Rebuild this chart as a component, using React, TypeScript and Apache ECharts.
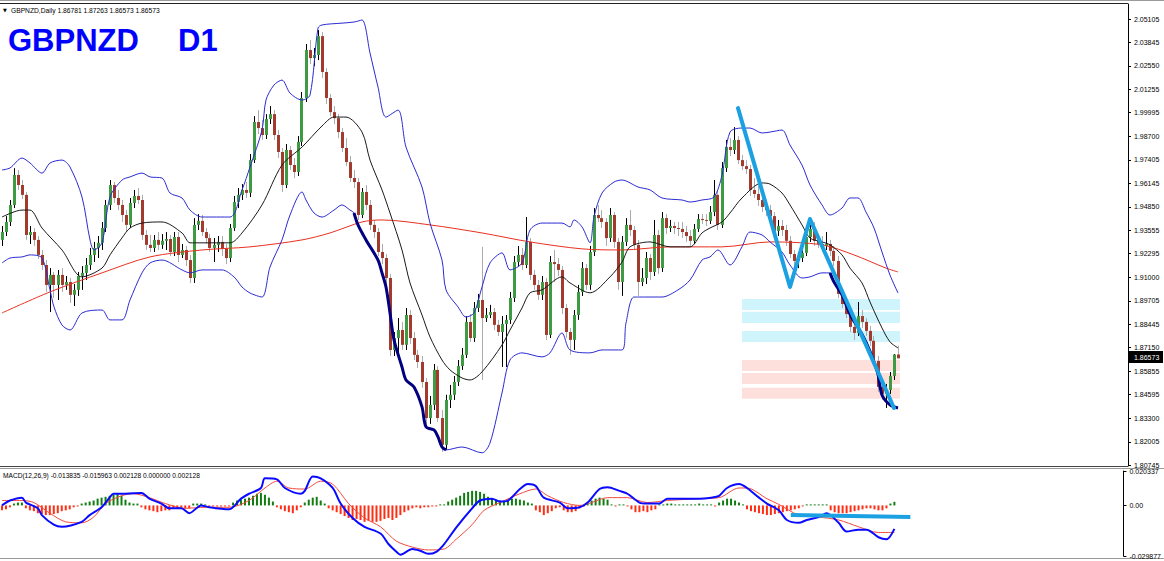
import React, { useEffect, useRef } from "react";
import * as echarts from "echarts";

// ---------- DATA ----------
const symbolTitle = "GBPNZD";
const periodTitle = "D1";
const headerText = "GBPNZD,Daily 1.86781 1.87263 1.86573 1.86573";
const macdHeader = "MACD(12,26,9) -0.013835 -0.015963 0.002128 0.000000 0.002128";
const lastPrice = 1.86573;
const totalSlots = 282;
const categories = Array.from({ length: totalSlots }, (_, i) => "D" + (i + 1));

const priceTicks = [2.05105, 2.03845, 2.0255, 2.01255, 1.99995, 1.987, 1.97405, 1.96145, 1.9485, 1.93555, 1.92295, 1.91, 1.89705, 1.88445, 1.8715, 1.85855, 1.84595, 1.833, 1.82005, 1.80745];
const macdTicks = [0.020337, 0, -0.029877];
const macdTickLabels = ["0.020337", "0.00", "-0.029877"];

const opens = [
  1.9304,1.9347,1.9402,1.9495,1.9659,1.9604,1.9550,1.9331,1.9347,1.9304,
  1.9222,1.9167,1.9058,1.9113,1.9058,1.9113,1.9058,1.9074,1.9004,1.9031,
  1.9107,1.9124,1.9167,1.9222,1.9260,1.9288,1.9369,1.9495,1.9604,1.9533,
  1.9495,1.9440,1.9386,1.9506,1.9544,1.9522,1.9331,1.9277,1.9260,1.9304,
  1.9277,1.9299,1.9309,1.9238,1.9320,1.9222,1.9249,1.9194,1.9096,1.9386,
  1.9408,1.9347,1.9314,1.9260,1.9277,1.9293,1.9255,1.9205,1.9369,1.9511,
  1.9550,1.9577,1.9561,1.9740,1.9948,1.9915,1.9877,1.9964,1.9991,1.9877,
  1.9784,1.9604,1.9795,1.9713,1.9675,1.9839,2.0079,2.0341,2.0297,2.0314,
  2.0417,2.0221,2.0079,2.0002,1.9969,1.9893,1.9806,1.9729,1.9642,1.9620,
  1.9440,1.9566,1.9495,1.9386,1.9347,1.9238,1.9205,1.9096,1.8703,1.8768,
  1.8812,1.8731,1.8894,1.8768,1.8676,1.8637,1.8528,1.8331,1.8403,1.8594,
  1.8331,1.8185,1.8430,1.8458,1.8528,1.8615,1.8676,1.8856,1.8768,1.8932,
  1.8976,1.8877,1.8894,1.8910,1.8840,1.8801,1.8845,1.8867,1.8987,1.9183,
  1.9222,1.9167,1.9293,1.9113,1.9058,1.9004,1.9074,1.8785,1.9183,1.9172,
  1.9140,1.8932,1.8801,1.8758,1.8894,1.9020,1.9150,1.9058,1.9238,1.9440,
  1.9423,1.9402,1.9314,1.9440,1.9293,1.9074,1.9293,1.9386,1.9358,1.9277,
  1.9074,1.9096,1.9205,1.9129,1.9331,1.9150,1.9423,1.9369,1.9380,1.9369,
  1.9364,1.9347,1.9325,1.9299,1.9364,1.9418,1.9413,1.9408,1.9456,1.9550,
  1.9386,1.9696,1.9812,1.9795,1.9850,1.9740,1.9707,1.9691,1.9577,1.9555,
  1.9522,1.9484,1.9467,1.9434,1.9353,1.9380,1.9358,1.9299,1.9227,1.9189,
  1.9205,1.9233,1.9320,1.9364,1.9299,1.9282,1.9271,1.9282,1.9244,1.9189,
  1.9009,1.8954,1.8899,1.8829,1.8796,1.8888,1.8856,1.8807,1.8753,1.8643,
  1.8501,1.8463,1.8485,1.8561,1.86781,
];
const highs = [
  1.9380,1.9434,1.9522,1.9696,1.9686,1.9631,1.9566,1.9380,1.9369,1.9325,
  1.9249,1.9194,1.9150,1.9129,1.9140,1.9150,1.9107,1.9096,1.9063,1.9129,
  1.9161,1.9205,1.9260,1.9293,1.9325,1.9402,1.9522,1.9631,1.9620,1.9577,
  1.9522,1.9467,1.9533,1.9577,1.9587,1.9550,1.9358,1.9331,1.9331,1.9347,
  1.9336,1.9347,1.9331,1.9347,1.9347,1.9282,1.9271,1.9222,1.9423,1.9445,
  1.9440,1.9369,1.9336,1.9314,1.9325,1.9325,1.9282,1.9391,1.9544,1.9587,
  1.9609,1.9620,1.9773,1.9980,2.0013,1.9959,1.9991,2.0035,2.0013,1.9904,
  1.9806,1.9828,1.9817,1.9751,1.9871,2.0112,2.0374,2.0396,2.0352,2.0450,
  2.0439,2.0242,2.0101,2.0035,1.9991,1.9915,1.9860,1.9762,1.9686,1.9642,
  1.9587,1.9604,1.9522,1.9413,1.9369,1.9282,1.9227,1.9118,1.8801,1.8877,
  1.8856,1.8932,1.8921,1.8801,1.8703,1.8670,1.8550,1.8452,1.8626,1.8615,
  1.8375,1.8458,1.8512,1.8561,1.8648,1.8714,1.8888,1.8899,1.8965,1.9009,
  1.9266,1.8932,1.8949,1.8932,1.8867,1.8888,1.8894,1.9020,1.9216,1.9271,
  1.9260,1.9429,1.9314,1.9140,1.9085,1.9107,1.9096,1.9216,1.9249,1.9205,
  1.9161,1.8954,1.8823,1.8921,1.9058,1.9183,1.9172,1.9271,1.9478,1.9495,
  1.9467,1.9423,1.9478,1.9456,1.9314,1.9325,1.9423,1.9467,1.9380,1.9304,
  1.9150,1.9238,1.9227,1.9413,1.9358,1.9456,1.9445,1.9413,1.9402,1.9402,
  1.9402,1.9380,1.9358,1.9391,1.9445,1.9445,1.9445,1.9489,1.9631,1.9577,
  1.9729,1.9850,1.9860,1.9920,1.9871,1.9768,1.9740,1.9713,1.9642,1.9599,
  1.9550,1.9522,1.9495,1.9456,1.9413,1.9413,1.9386,1.9325,1.9249,1.9238,
  1.9271,1.9358,1.9391,1.9402,1.9336,1.9325,1.9347,1.9304,1.9271,1.9216,
  1.9042,1.8976,1.8921,1.8867,1.8965,1.8921,1.8877,1.8834,1.8779,1.8670,
  1.8528,1.8517,1.8583,1.8681,1.87263,
];
const lows = [
  1.9271,1.9325,1.9380,1.9478,1.9577,1.9527,1.9304,1.9282,1.9271,1.9200,
  1.9140,1.9020,1.8910,1.8987,1.8976,1.9020,1.9031,1.8960,1.8943,1.8998,
  1.9031,1.9085,1.9140,1.9183,1.9205,1.9249,1.9347,1.9467,1.9506,1.9467,
  1.9402,1.9347,1.9369,1.9478,1.9500,1.9304,1.9249,1.9238,1.9238,1.9249,
  1.9255,1.9249,1.9216,1.9216,1.9183,1.9205,1.9161,1.9069,1.9069,1.9358,
  1.9325,1.9282,1.9238,1.9183,1.9238,1.9216,1.9172,1.9183,1.9353,1.9478,
  1.9522,1.9533,1.9538,1.9724,1.9882,1.9850,1.9855,1.9937,1.9850,1.9751,
  1.9566,1.9587,1.9686,1.9642,1.9653,1.9817,2.0057,2.0264,2.0253,2.0286,
  2.0188,2.0046,1.9980,1.9937,1.9860,1.9784,1.9707,1.9620,1.9587,1.9413,
  1.9423,1.9467,1.9358,1.9314,1.9216,1.9172,1.9063,1.8670,1.8670,1.8692,
  1.8703,1.8703,1.8736,1.8648,1.8604,1.8496,1.8299,1.8299,1.8375,1.8310,
  1.8146,1.8157,1.8386,1.8430,1.8506,1.8594,1.8659,1.8747,1.8747,1.8910,
  1.8539,1.8856,1.8877,1.8812,1.8779,1.8610,1.8610,1.8845,1.8965,1.9161,
  1.9140,1.9150,1.9085,1.9031,1.8976,1.8976,1.8758,1.8768,1.9074,1.9107,
  1.8899,1.8768,1.8676,1.8703,1.8867,1.8998,1.9031,1.9031,1.9216,1.9402,
  1.9369,1.9271,1.9293,1.9260,1.9031,1.8998,1.9271,1.9325,1.9249,1.8998,
  1.9052,1.9063,1.9085,1.9107,1.9118,1.9129,1.9336,1.9347,1.9336,1.9325,
  1.9314,1.9293,1.9271,1.9282,1.9347,1.9391,1.9380,1.9391,1.9434,1.9358,
  1.9369,1.9675,1.9762,1.9773,1.9718,1.9686,1.9664,1.9544,1.9533,1.9489,
  1.9456,1.9434,1.9402,1.9325,1.9325,1.9325,1.9271,1.9205,1.9150,1.9150,
  1.9183,1.9216,1.9293,1.9271,1.9260,1.9238,1.9249,1.9216,1.9161,1.8987,
  1.8932,1.8877,1.8801,1.8758,1.8779,1.8823,1.8779,1.8725,1.8615,1.8474,
  1.8430,1.8386,1.8463,1.8539,1.86573,
];
const closes = [
  1.9347,1.9402,1.9495,1.9659,1.9604,1.9550,1.9331,1.9347,1.9304,1.9222,
  1.9167,1.9058,1.9113,1.9058,1.9113,1.9058,1.9074,1.9004,1.9031,1.9107,
  1.9124,1.9167,1.9222,1.9260,1.9288,1.9369,1.9495,1.9604,1.9533,1.9495,
  1.9440,1.9386,1.9506,1.9544,1.9522,1.9331,1.9277,1.9260,1.9304,1.9277,
  1.9299,1.9309,1.9238,1.9320,1.9222,1.9249,1.9194,1.9096,1.9386,1.9408,
  1.9347,1.9314,1.9260,1.9277,1.9293,1.9255,1.9205,1.9369,1.9511,1.9550,
  1.9577,1.9561,1.9740,1.9948,1.9915,1.9877,1.9964,1.9991,1.9877,1.9784,
  1.9604,1.9795,1.9713,1.9675,1.9839,2.0079,2.0341,2.0297,2.0314,2.0417,
  2.0221,2.0079,2.0002,1.9969,1.9893,1.9806,1.9729,1.9642,1.9620,1.9440,
  1.9566,1.9495,1.9386,1.9347,1.9238,1.9205,1.9096,1.8703,1.8768,1.8812,
  1.8731,1.8894,1.8768,1.8676,1.8637,1.8528,1.8331,1.8403,1.8594,1.8331,
  1.8185,1.8430,1.8458,1.8528,1.8615,1.8676,1.8856,1.8768,1.8932,1.8976,
  1.8877,1.8894,1.8910,1.8840,1.8801,1.8845,1.8867,1.8987,1.9183,1.9222,
  1.9167,1.9293,1.9113,1.9058,1.9004,1.9074,1.8785,1.9183,1.9172,1.9140,
  1.8932,1.8801,1.8758,1.8894,1.9020,1.9150,1.9058,1.9238,1.9440,1.9423,
  1.9402,1.9314,1.9440,1.9293,1.9074,1.9293,1.9386,1.9358,1.9277,1.9074,
  1.9096,1.9205,1.9129,1.9331,1.9150,1.9423,1.9369,1.9380,1.9369,1.9364,
  1.9347,1.9325,1.9299,1.9364,1.9418,1.9413,1.9408,1.9456,1.9550,1.9386,
  1.9696,1.9812,1.9795,1.9850,1.9740,1.9707,1.9691,1.9577,1.9555,1.9522,
  1.9484,1.9467,1.9434,1.9353,1.9380,1.9358,1.9299,1.9227,1.9189,1.9205,
  1.9233,1.9320,1.9364,1.9299,1.9282,1.9271,1.9282,1.9244,1.9189,1.9009,
  1.8954,1.8899,1.8829,1.8796,1.8888,1.8856,1.8807,1.8753,1.8643,1.8501,
  1.8463,1.8485,1.8561,1.8678,1.86573,
];

// indicator lines: [bar index, value]
const ma200 = [[0,1.8905],[12,1.9020],[25,1.9124],[37,1.9211],[50,1.9249],[62,1.9266],[75,1.9304],[82,1.9342],[90,1.9402],[95,1.9413],[107,1.9386],[120,1.9342],[132,1.9293],[145,1.9255],[155,1.9249],[167,1.9266],[180,1.9266],[192,1.9293],[205,1.9277],[213,1.9222],[221,1.9150],[224,1.9129]];
const bbMiddle = [[0,1.9429],[5,1.9467],[7,1.9467],[10,1.9369],[15,1.9249],[20,1.9102],[25,1.9150],[27,1.9222],[30,1.9315],[32,1.9369],[35,1.9396],[40,1.9402],[45,1.9342],[47,1.9288],[50,1.9288],[57,1.9288],[60,1.9342],[65,1.9495],[70,1.9713],[75,1.9811],[80,1.9926],[83,1.9975],[86,1.9975],[90,1.9893],[92,1.9740],[95,1.9577],[97,1.9451],[100,1.9249],[102,1.9069],[105,1.8894],[107,1.8774],[110,1.8648],[112,1.8594],[115,1.8550],[117,1.8539],[120,1.8583],[125,1.8730],[127,1.8812],[130,1.8932],[132,1.9015],[135,1.9031],[140,1.9102],[142,1.9069],[147,1.9015],[152,1.9102],[155,1.9183],[157,1.9266],[162,1.9293],[167,1.9266],[172,1.9266],[175,1.9342],[177,1.9369],[180,1.9402],[182,1.9451],[185,1.9533],[190,1.9615],[192,1.9609],[195,1.9560],[197,1.9495],[200,1.9386],[202,1.9314],[205,1.9293],[207,1.9277],[210,1.9222],[212,1.9150],[215,1.9069],[217,1.8965],[220,1.8823],[222,1.8747],[224,1.8714]];
const bbUpper = [[0,1.9686],[2,1.9697],[5,1.9751],[7,1.9724],[10,1.9669],[12,1.9724],[15,1.9740],[17,1.9702],[20,1.9538],[22,1.9304],[23,1.9249],[25,1.9288],[27,1.9538],[30,1.9631],[32,1.9648],[35,1.9669],[37,1.9648],[40,1.9642],[42,1.9560],[45,1.9533],[47,1.9467],[50,1.9429],[57,1.9429],[60,1.9577],[62,1.9702],[65,1.9904],[66,2.0068],[68,2.0150],[70,2.0177],[72,2.0106],[75,2.0068],[77,2.0095],[79,2.0461],[80,2.0478],[85,2.0488],[88,2.0494],[90,2.0505],[92,2.0325],[94,2.0139],[96,1.9975],[99,2.0013],[101,1.9811],[105,1.9593],[107,1.9396],[110,1.9194],[111,1.9031],[114,1.8938],[116,1.8883],[118,1.8905],[120,1.9047],[122,1.9178],[125,1.9233],[127,1.9140],[130,1.9178],[132,1.9358],[135,1.9396],[140,1.9396],[142,1.9375],[143,1.9413],[145,1.9375],[147,1.9288],[148,1.9429],[150,1.9560],[153,1.9620],[155,1.9631],[159,1.9593],[162,1.9577],[165,1.9533],[170,1.9522],[172,1.9511],[175,1.9522],[178,1.9538],[180,1.9658],[182,1.9893],[185,1.9915],[187,1.9915],[190,1.9888],[192,1.9893],[195,1.9904],[197,1.9822],[200,1.9713],[202,1.9604],[205,1.9495],[207,1.9440],[210,1.9478],[212,1.9533],[214,1.9533],[216,1.9456],[218,1.9369],[220,1.9238],[222,1.9112],[224,1.9014]];
const bbLower = [[0,1.9178],[2,1.9205],[5,1.9211],[7,1.9222],[10,1.9205],[12,1.9031],[13,1.8938],[15,1.8839],[17,1.8812],[20,1.8905],[25,1.8921],[27,1.8867],[30,1.8867],[32,1.8976],[35,1.9124],[37,1.9178],[40,1.9194],[45,1.9140],[47,1.9124],[50,1.9140],[55,1.9140],[58,1.9102],[60,1.9047],[62,1.9014],[65,1.8992],[67,1.9156],[70,1.9304],[72,1.9440],[75,1.9566],[76,1.9522],[78,1.9451],[80,1.9429],[83,1.9467],[85,1.9495],[87,1.9467],[88,1.9451],[89,1.9386],[91,1.9304],[94,1.9194],[95,1.9124],[96,1.9047],[97,1.8905],[98,1.8758],[100,1.8610],[101,1.8539],[103,1.8501],[105,1.8392],[106,1.8283],[108,1.8266],[109,1.8228],[110,1.8173],[111,1.8157],[115,1.8173],[120,1.8141],[122,1.8195],[125,1.8468],[127,1.8648],[130,1.8687],[135,1.8665],[137,1.8687],[140,1.8796],[142,1.8703],[147,1.8687],[150,1.8703],[155,1.8703],[156,1.8850],[158,1.8992],[161,1.8992],[165,1.8992],[169,1.9031],[172,1.9085],[175,1.9194],[177,1.9211],[179,1.9249],[182,1.9167],[185,1.9266],[187,1.9347],[190,1.9331],[192,1.9293],[195,1.9238],[197,1.9167],[200,1.9096],[202,1.9102],[205,1.9124],[207,1.9124],[208,1.9074],[210,1.9004],[212,1.8898],[215,1.8789],[217,1.8696],[219,1.8570],[220,1.8457],[222,1.8403],[224,1.8386]];
const lowerBandBold1 = [[88,1.9451],[89,1.9386],[91,1.9304],[94,1.9194],[95,1.9124],[96,1.9047],[97,1.8905],[98,1.8758],[100,1.8610],[101,1.8539],[103,1.8501],[105,1.8392],[106,1.8283],[108,1.8266],[109,1.8228],[110,1.8173],[111,1.8157]];
const lowerBandBold2 = [[207,1.9124],[208,1.9074],[210,1.9004],[212,1.8898],[215,1.8789],[217,1.8696],[219,1.8570],[220,1.8457],[222,1.8403],[224,1.8386]];

// drawn objects
const zigzag = [[184,2.0024],[197,1.9047],[202,1.9418],[223,1.8386]];
const zoneFrom = 185;
const zoneTo = 224;
const cyanZones = [[1.8981,1.8921],[1.8911,1.8850],[1.8807,1.8747]];
const pinkZones = [[1.8648,1.8588],[1.8577,1.8517],[1.8496,1.8436]];
const macdTrendline = [[198,-0.0057],[228,-0.0069]];

// MACD
const macdHist = [
  -0.0029,-0.0023,-0.0011,0.0011,0.0017,0.0017,-0.0017,-0.0029,-0.0034,-0.0046,
  -0.0051,-0.0057,-0.0057,-0.0051,-0.0046,-0.0034,-0.0029,-0.0023,-0.0011,-0.0006,
  0.0011,0.0017,0.0023,0.0029,0.0040,0.0046,0.0051,0.0057,0.0063,0.0069,
  0.0057,0.0034,0.0017,0.0011,0.0011,-0.0011,-0.0023,-0.0029,-0.0034,-0.0040,
  -0.0034,-0.0029,-0.0029,-0.0017,-0.0017,-0.0011,-0.0017,-0.0017,0.0011,0.0011,
  0.0011,0.0006,-0.0006,-0.0006,-0.0006,-0.0006,-0.0006,-0.0006,0.0017,0.0029,
  0.0034,0.0040,0.0046,0.0057,0.0069,0.0074,0.0063,0.0046,0.0023,-0.0011,
  -0.0023,-0.0034,-0.0040,-0.0046,-0.0029,-0.0011,0.0017,0.0034,0.0046,0.0051,
  0.0029,0.0011,-0.0017,-0.0029,-0.0040,-0.0051,-0.0063,-0.0074,-0.0086,-0.0080,
  -0.0086,-0.0097,-0.0091,-0.0097,-0.0097,-0.0091,-0.0080,-0.0074,-0.0086,-0.0074,
  -0.0057,-0.0040,-0.0029,-0.0017,-0.0011,-0.0017,-0.0011,-0.0011,-0.0006,-0.0006,
  0.0006,0.0006,0.0023,0.0034,0.0046,0.0057,0.0074,0.0080,0.0086,0.0086,
  0.0080,0.0069,0.0051,0.0040,0.0029,0.0029,0.0029,0.0034,0.0040,0.0040,
  0.0034,0.0029,0.0017,0.0011,-0.0029,-0.0040,-0.0057,-0.0046,-0.0034,-0.0017,
  -0.0011,-0.0029,-0.0040,-0.0040,-0.0034,-0.0017,-0.0006,0.0011,0.0029,0.0040,
  0.0046,0.0040,0.0034,0.0006,-0.0006,0.0006,0.0006,-0.0006,-0.0023,-0.0040,
  -0.0040,-0.0034,-0.0040,-0.0029,-0.0023,0.0006,0.0006,0.0011,0.0011,0.0006,
  0.0006,0.0006,0.0006,0.0006,0.0006,0.0011,0.0006,0.0006,0.0006,-0.0006,
  0.0017,0.0029,0.0040,0.0040,0.0029,0.0017,0.0006,-0.0023,-0.0034,-0.0040,
  -0.0046,-0.0051,-0.0057,-0.0057,-0.0051,-0.0046,-0.0040,-0.0034,-0.0029,-0.0023,
  -0.0017,-0.0006,0.0006,0.0006,0.0006,0.0006,0.0006,0.0006,-0.0029,-0.0040,
  -0.0046,-0.0046,-0.0046,-0.0040,-0.0034,-0.0029,-0.0023,-0.0017,-0.0017,-0.0023,
  -0.0029,-0.0029,-0.0017,0.0011,0.002128,
];
const macdLine = [[0,0],[2,0.0029],[5,0.0046],[6,0.0017],[9,-0.0017],[10,-0.0057],[13,-0.0114],[15,-0.0126],[20,-0.0097],[22,-0.0057],[25,-0.0011],[27,0.0046],[28,0.0069],[31,0.0069],[35,0.0074],[37,0.0040],[40,0.0011],[42,-0.0017],[45,-0.0017],[47,-0.0046],[50,0],[52,-0.0011],[57,-0.0023],[60,0.0040],[62,0.0069],[65,0.0103],[66,0.0160],[69,0.0154],[71,0.0103],[75,0.0069],[76,0.0086],[78,0.0171],[80,0.0160],[83,0.0103],[85,0.0011],[88,-0.0074],[91,-0.0126],[95,-0.0166],[97,-0.0228],[99,-0.0274],[100,-0.0291],[103,-0.0257],[105,-0.0268],[107,-0.0286],[109,-0.0274],[111,-0.0228],[114,-0.0131],[118,-0.0017],[120,0.0029],[123,0.0040],[125,0.0023],[127,0.0029],[130,0.0097],[132,0.0126],[134,0.0114],[136,0.0046],[140,0.0017],[142,-0.0017],[145,-0.0011],[147,0.0017],[150,0.0097],[152,0.0108],[155,0.0086],[157,0.0069],[160,0.0017],[162,0.0011],[165,0.0011],[167,0.0040],[175,0.0040],[178,0.0046],[180,0.0057],[182,0.0103],[185,0.0126],[187,0.0103],[190,0.0046],[192,0.0011],[195,-0.0029],[197,-0.0086],[200,-0.0103],[202,-0.0086],[205,-0.0069],[207,-0.0046],[210,-0.0103],[212,-0.0154],[215,-0.0143],[217,-0.0143],[220,-0.0188],[222,-0.0200],[224,-0.013835]];
const signalLine = [[0,0.0029],[5,0.0029],[8,0.0017],[12,-0.0046],[16,-0.0097],[20,-0.0103],[23,-0.0069],[26,0.0011],[30,0.0057],[33,0.0069],[37,0.0046],[41,0.0011],[46,-0.0017],[51,-0.0011],[57,-0.0011],[62,0.0029],[66,0.0103],[69,0.0143],[72,0.0103],[76,0.0097],[80,0.0143],[83,0.0126],[87,0.0011],[91,-0.0074],[95,-0.0126],[99,-0.0211],[103,-0.0246],[107,-0.0263],[111,-0.0257],[114,-0.0200],[118,-0.0114],[121,-0.0029],[125,0.0017],[130,0.0069],[134,0.0097],[137,0.0057],[141,0.0017],[145,0],[148,0.0017],[152,0.0046],[157,0.0046],[162,0.0017],[167,0.0029],[175,0.0040],[180,0.0046],[185,0.0103],[187,0.0103],[192,0.0040],[195,0.0006],[200,-0.0057],[205,-0.0069],[210,-0.0086],[215,-0.0126],[220,-0.0160],[224,-0.015963]];

// ---------- STYLE ----------
const UP_BODY = "#3f9a44";
const UP_WICK = "#000000";
const DOWN_BODY = "#a23a2e";
const DOWN_WICK = "#ababab";
const BAND_BLUE = "#2b2bd2";
const ZIG = "#1ba1e2";
const FONT = '"Liberation Sans", Arial, sans-serif';

export default function App() {
  const ref = useRef<HTMLDivElement>(null);

  useEffect(() => {
    if (!ref.current) return;
    const chart = echarts.init(ref.current, undefined, { renderer: "svg" });

    const candleData = closes.map((c, i) => [i, opens[i], c, lows[i], highs[i]]);
    const zoneData = [
      ...cyanZones.map((z) => [zoneFrom, zoneTo, z[0], z[1], 0]),
      ...pinkZones.map((z) => [zoneFrom, zoneTo, z[0], z[1], 1]),
    ];

    const thinLine = (name: string, data: number[][], color: string, width: number, z: number) => ({
      name,
      type: "line",
      xAxisIndex: 0,
      yAxisIndex: 0,
      data,
      showSymbol: false,
      symbol: "none",
      smooth: 0.3,
      lineStyle: { color, width },
      z,
      silent: true,
    });

    const baseGraphics: any[] = [
      { type: "line", silent: true, shape: { x1: 0, y1: 0.5, x2: 1164, y2: 0.5 }, style: { stroke: "#9a9a9a", lineWidth: 1 } },
      { type: "line", silent: true, shape: { x1: 0, y1: 3.5, x2: 1128, y2: 3.5 }, style: { stroke: "#222", lineWidth: 1 } },
      { type: "line", silent: true, shape: { x1: 0, y1: 466.5, x2: 1128, y2: 466.5 }, style: { stroke: "#444", lineWidth: 1 } },
      { type: "line", silent: true, shape: { x1: 0, y1: 468.5, x2: 1164, y2: 468.5 }, style: { stroke: "#9a9a9a", lineWidth: 1 } },
      { type: "line", silent: true, shape: { x1: 0, y1: 558.5, x2: 1164, y2: 558.5 }, style: { stroke: "#9a9a9a", lineWidth: 1 } },
      { type: "text", silent: true, x: 3, y: 10, style: { text: "▼", font: '5px "DejaVu Sans", sans-serif', fill: "#000", verticalAlign: "middle" } },
      { type: "text", silent: true, x: 11, y: 10, style: { text: headerText, font: "6.7px " + FONT, fill: "#000", verticalAlign: "middle" } },
      { type: "text", silent: true, x: 8, y: 40, style: { text: symbolTitle, font: "bold 31px " + FONT, fill: "#0000ff", verticalAlign: "middle" } },
      { type: "text", silent: true, x: 178, y: 40, style: { text: periodTitle, font: "bold 31px " + FONT, fill: "#0000ff", verticalAlign: "middle" } },
      { type: "text", silent: true, x: 3, y: 475, style: { text: macdHeader, font: "6.6px " + FONT, fill: "#000", verticalAlign: "middle" } },
    ];

    const option: any = {
      animation: false,
      backgroundColor: "#ffffff",
      grid: [
        { left: 0, top: 4, width: 1128, height: 462 },
        { left: 0, top: 471, width: 1128, height: 85 },
      ],
      xAxis: [
        { type: "category", gridIndex: 0, data: categories, boundaryGap: true, axisLine: { show: false }, axisTick: { show: false }, axisLabel: { show: false }, splitLine: { show: false } },
        { type: "category", gridIndex: 1, data: categories, boundaryGap: true, axisLine: { show: false }, axisTick: { show: false }, axisLabel: { show: false }, splitLine: { show: false } },
      ],
      yAxis: [
        {
          type: "value",
          gridIndex: 0,
          position: "right",
          min: 1.80691,
          max: 2.05925,
          axisLine: { show: true, lineStyle: { color: "#000", width: 1 } },
          axisTick: { show: true, customValues: priceTicks, length: 3, lineStyle: { color: "#000" } },
          axisLabel: { customValues: priceTicks, formatter: (v: number) => v.toFixed(5), fontSize: 7, fontFamily: FONT, color: "#000", margin: 6 },
          splitLine: { show: false },
        },
        {
          type: "value",
          gridIndex: 1,
          position: "right",
          min: -0.029877,
          max: 0.020337,
          axisLine: { show: true, lineStyle: { color: "#000", width: 1 } },
          axisTick: { show: true, customValues: macdTicks, length: 3, lineStyle: { color: "#000" } },
          axisLabel: {
            customValues: macdTicks,
            formatter: (v: number) => {
              let best = 0;
              macdTicks.forEach((t, k) => { if (Math.abs(t - v) < Math.abs(macdTicks[best] - v)) best = k; });
              return macdTickLabels[best];
            },
            fontSize: 7,
            fontFamily: FONT,
            color: "#000",
            margin: 6,
          },
          splitLine: { show: false },
        },
      ],
      series: [
        {
          name: "zones",
          type: "custom",
          xAxisIndex: 0,
          yAxisIndex: 0,
          data: zoneData,
          encode: { x: [0, 1], y: [2, 3] },
          z: 1,
          silent: true,
          renderItem: (params: any, api: any) => {
            const a = api.coord([api.value(0), api.value(2)]);
            const b = api.coord([api.value(1), api.value(3)]);
            return {
              type: "rect",
              shape: { x: a[0], y: a[1], width: b[0] - a[0] + 2, height: b[1] - a[1] },
              style: { fill: api.value(4) === 0 ? "#d0f4fb" : "#fde0dc" },
            };
          },
        },
        {
          name: "candles",
          type: "custom",
          xAxisIndex: 0,
          yAxisIndex: 0,
          data: candleData,
          encode: { x: 0, y: [1, 2, 3, 4] },
          z: 3,
          silent: true,
          renderItem: (params: any, api: any) => {
            const i = api.value(0);
            const o = api.value(1);
            const c = api.value(2);
            const pO = api.coord([i, o]);
            const pC = api.coord([i, c]);
            const pL = api.coord([i, api.value(3)]);
            const pH = api.coord([i, api.value(4)]);
            const up = c >= o;
            const x = Math.floor(pO[0]);
            const top = Math.min(pO[1], pC[1]);
            const bot = Math.max(pO[1], pC[1]);
            return {
              type: "group",
              children: [
                { type: "line", shape: { x1: x + 0.5, y1: pH[1], x2: x + 0.5, y2: pL[1] }, style: { stroke: up ? UP_WICK : DOWN_WICK, lineWidth: 1 } },
                { type: "rect", shape: { x: x - 1, y: top, width: 3, height: Math.max(1, bot - top) }, style: { fill: up ? UP_BODY : DOWN_BODY } },
              ],
            };
          },
        },
        thinLine("ma200", ma200, "#e8301f", 1, 4),
        thinLine("bbMiddle", bbMiddle, "#1a1a1a", 1, 4),
        thinLine("bbUpper", bbUpper, BAND_BLUE, 1, 4),
        thinLine("bbLower", bbLower, BAND_BLUE, 1, 4),
        thinLine("bbLowerBold1", lowerBandBold1, "#000080", 3, 5),
        thinLine("bbLowerBold2", lowerBandBold2, "#000080", 3, 5),
        {
          name: "zigzag",
          type: "line",
          xAxisIndex: 0,
          yAxisIndex: 0,
          data: zigzag,
          showSymbol: false,
          symbol: "none",
          lineStyle: { color: ZIG, width: 4, cap: "round", join: "round" },
          z: 6,
          silent: true,
        },
        {
          name: "macdHist",
          type: "bar",
          xAxisIndex: 1,
          yAxisIndex: 1,
          data: macdHist,
          barWidth: 2,
          itemStyle: { color: (p: any) => (p.value >= 0 ? "#117d11" : "#ff2d14") },
          z: 2,
          silent: true,
        },
        {
          name: "macd",
          type: "line",
          xAxisIndex: 1,
          yAxisIndex: 1,
          data: macdLine,
          showSymbol: false,
          symbol: "none",
          smooth: 0.3,
          lineStyle: { color: "#0a0aff", width: 2 },
          z: 4,
          silent: true,
        },
        {
          name: "signal",
          type: "line",
          xAxisIndex: 1,
          yAxisIndex: 1,
          data: signalLine,
          showSymbol: false,
          symbol: "none",
          smooth: 0.3,
          lineStyle: { color: "#f24a3c", width: 1 },
          z: 3,
          silent: true,
        },
        {
          name: "macdTrend",
          type: "line",
          xAxisIndex: 1,
          yAxisIndex: 1,
          data: macdTrendline,
          showSymbol: false,
          symbol: "none",
          lineStyle: { color: ZIG, width: 4 },
          z: 6,
          silent: true,
        },
      ],
      graphic: baseGraphics,
    };

    chart.setOption(option);

    // current price tag on the price scale
    const py = chart.convertToPixel({ yAxisIndex: 0 }, lastPrice) as number;
    if (typeof py === "number" && isFinite(py)) {
      const boxTop = Math.round(py) - 7;
      chart.setOption({
        graphic: [
          ...baseGraphics,
          { type: "rect", silent: true, z: 100, shape: { x: 1129, y: boxTop, width: 34, height: 12 }, style: { fill: "#000" } },
          { type: "text", silent: true, z: 101, x: 1134, y: boxTop + 6, style: { text: lastPrice.toFixed(5), font: "7px " + FONT, fill: "#fff", verticalAlign: "middle" } },
        ],
      });
    }
    return () => chart.dispose();
  }, []);

  return <div ref={ref} style={{ position: "absolute", left: 0, top: 0, width: 1164, height: 561 }} />;
}
